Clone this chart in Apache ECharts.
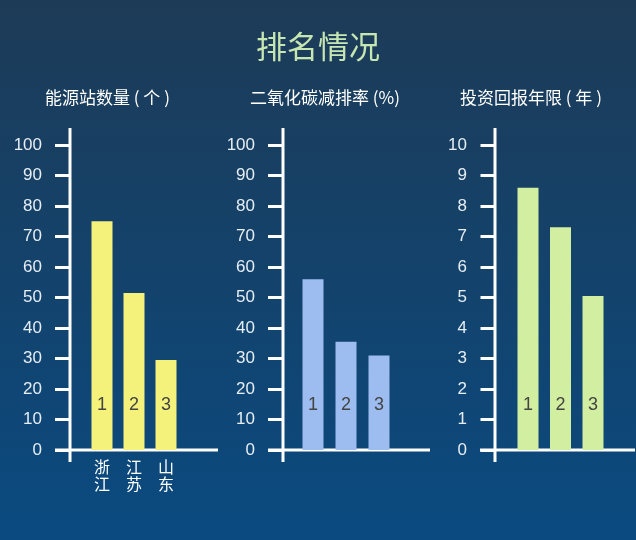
<!DOCTYPE html>
<html><head><meta charset="utf-8">
<script src="https://cdn.jsdelivr.net/npm/echarts@6/dist/echarts.min.js"></script>
<style>html,body{margin:0;padding:0;}#main{width:636px;height:540px;background:linear-gradient(#1d3b57,#0a4a80);}</style>
</head><body>
<div id="main"></div>
<script>
  var titles = ['能源站数量 ( 个 )', '二氧化碳减排率 (%)', '投资回报年限 ( 年 )'];
  var cats1 = ['浙江', '江苏', '山东'];
  var vals1 = [75, 51.5, 29.5];
  var cats2 = ['浙江', '黑龙江', '山东'];
  var vals2 = [56, 35.5, 31];
  var cats3 = ['萧花机场', '新朝阳', '亭湖医院'];
  var vals3 = [8.6, 7.3, 5.05];
  var ranks = ['1', '2', '3'];
  var yMax = [100, 100, 10];
  var yStep = [10, 10, 1];

  var colors = ['#f4f27b', '#9dbcf0', '#d2eea0'];
  var axisX = [70, 283, 495];
  var axisEnd = [218, 430, 635];
  var firstOff = [32, 30, 33];
  var step = [32, 33, 32.5];
  var allCats = [cats1, cats2, cats3];
  var allVals = [vals1, vals2, vals3];

  var chart = echarts.init(document.getElementById('main'));
  var grid = [], xAxis = [], yAxis = [], series = [], graphic = [];
  for (var i = 0; i < 3; i++) {
    (function (i) {
      var w = axisEnd[i] - axisX[i];
      var start = 1 - firstOff[i] / step[i];
      grid.push({left: axisX[i], width: w, top: 145, height: 305});
      xAxis.push({
        type: 'value', gridIndex: i, min: start, max: start + w / step[i], interval: 1,
        axisLine: {show: false}, axisTick: {show: false}, splitLine: {show: false},
        axisLabel: {
          color: '#fff', fontSize: 16, lineHeight: 17, margin: 8,
          fontFamily: 'Noto Sans CJK SC',
          formatter: function (v) {
            var k = Math.round(v) - 1;
            if (Math.abs(v - Math.round(v)) > 1e-6 || k < 0 || k > 2) return '';
            return allCats[i][k].split('').join('\n');
          },
          showMinLabel: false, showMaxLabel: false
        }
      });
      yAxis.push({
        type: 'value', gridIndex: i, min: 0, max: yMax[i], interval: yStep[i],
        axisLine: {show: false}, splitLine: {show: false},
        axisTick: {show: true, length: 15, lineStyle: {color: '#fff', width: 3}},
        axisLabel: {color: '#e6edf3', fontSize: 17, margin: 28, fontFamily: 'Liberation Sans Narrow, Arial Narrow, sans-serif'}
      });
      series.push({
        type: 'bar', xAxisIndex: i, yAxisIndex: i, barWidth: 21,
        data: allVals[i].map(function (v, k) { return [k + 1, v]; }),
        itemStyle: {color: colors[i]},
        label: {
          show: true, position: 'insideBottom', distance: 36,
          color: '#444', fontSize: 18,
          formatter: function (p) { return ranks[p.dataIndex]; }
        }
      });
      graphic.push({type: 'line', shape: {x1: axisX[i], y1: 128, x2: axisX[i], y2: 462}, style: {stroke: '#fff', lineWidth: 3}});
      graphic.push({type: 'line', shape: {x1: axisX[i] - 15, y1: 450, x2: axisEnd[i], y2: 450}, style: {stroke: '#fff', lineWidth: 3}});
      graphic.push({type: 'text', left: [45, 250, 460][i], top: 89, style: {text: titles[i], fill: '#fff', font: '17px "Noto Sans CJK SC"'}});
    })(i);
  }
  chart.setOption({
    title: {text: '排名情况', left: 'center', top: 26, textStyle: {color: '#c7e7b2', fontSize: 31, fontWeight: 'normal', fontFamily: 'Noto Sans CJK SC'}},
    grid: grid, xAxis: xAxis, yAxis: yAxis, series: series, graphic: graphic
  });
</script>
</body></html>
